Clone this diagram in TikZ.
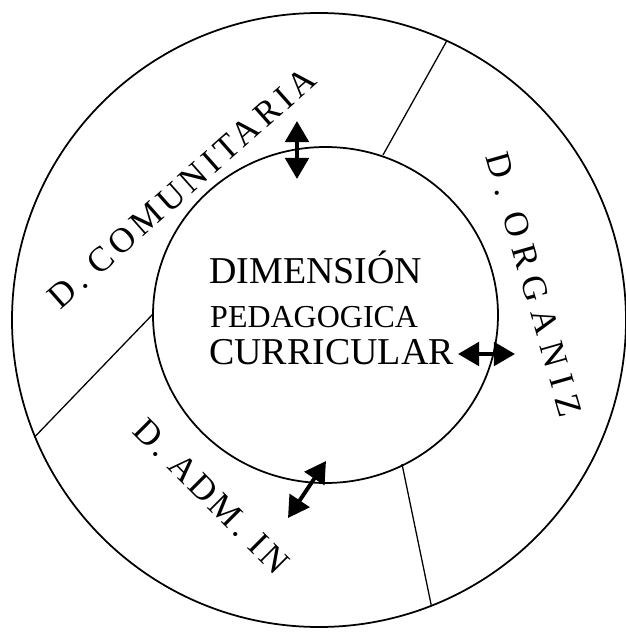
\documentclass[tikz,border=0pt]{standalone}
\usepackage{fontspec}
\setmainfont{Liberation Serif}
\usetikzlibrary{arrows.meta}

\begin{document}
\begin{tikzpicture}[x=0.3mm,y=0.3mm,
    ring/.style={line width=1.5pt},
    cut/.style={line width=1.1pt},
    dimarrow/.style={{Triangle[length=18pt,width=20pt]}-{Triangle[length=18pt,width=20pt]},
      line width=3.4pt},
    outerlabel/.style={inner sep=0pt,font=\fontsize{29.9}{32}\selectfont}]
    \useasboundingbox (-319,-317) rectangle (307,320);
    % rings
    \draw[ring] (0,0) circle (307);
    \draw[ring] (6.5,5) ellipse (172.5 and 168);
    % borders between the outer dimensions
    \coordinate (cut1in) at (64,165);
    \coordinate (cut1out) at (65.4:307);
    \coordinate (cut2in) at (-166,6);
    \coordinate (cut2out) at (202.4:308);
    \coordinate (cut3in) at (83,-144);
    \coordinate (cut3out) at (291.5:306);
    \draw[cut] (cut1in) -- (cut1out);
    \draw[cut] (cut2in) -- (cut2out);
    \draw[cut] (cut3in) -- (cut3out);
    % centre
    \node[anchor=base west,inner sep=0pt,font=\fontsize{32.4}{36}\selectfont]
      (dim) at (-110,37) {DIMENSIÓN};
    \node[anchor=base west,inner sep=0pt,font=\fontsize{27.3}{30}\selectfont]
      (ped) at (-109,-7) {PEDAGOGICA};
    \node[anchor=base west,inner sep=0pt,font=\fontsize{32.4}{36}\selectfont]
      (cur) at (-110,-44) {CURRICULAR};
    % outer dimensions
    \node[outerlabel,rotate=41.5] (comun) at (-137,132)
      {\addfontfeature{LetterSpace=13}D. COMUNITARIA};
    \node[outerlabel,rotate=-74] (organiz) at (215,35)
      {\addfontfeature{LetterSpace=26}D. ORGANIZ};
    \node[outerlabel,rotate=-45] (adm) at (-108,-176)
      {\addfontfeature{LetterSpace=10}D. ADM. IN};
    % links
    \coordinate (topA) at (-22,199);
    \coordinate (topB) at (-22,141);
    \coordinate (rightA) at (139,-34);
    \coordinate (rightB) at (196,-34);
    \coordinate (lowA) at (7,-141);
    \coordinate (lowB) at (-31,-198);
    \draw[dimarrow] (topA) -- (topB);
    \draw[dimarrow] (rightA) -- (rightB);
    \draw[dimarrow] (lowA) -- (lowB);
  \end{tikzpicture}
\end{document}
